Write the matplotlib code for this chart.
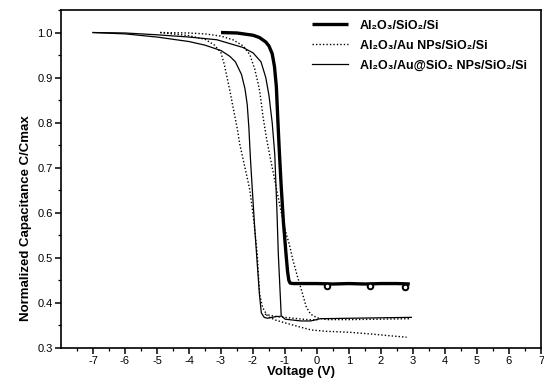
import matplotlib
matplotlib.use("Agg")
import matplotlib.pyplot as plt

plt.rcParams['font.family'] = ['Liberation Sans', 'DejaVu Sans']
plt.rcParams['axes.unicode_minus'] = False

# Al2O3/SiO2/Si (thick solid)
v_ref = [-3.0, -2.5, -2.0, -1.8, -1.6, -1.5, -1.4, -1.33, -1.27, -1.22, -1.18, -1.12,
         -1.05, -0.97, -0.92, -0.88, -0.84, -0.75, -0.5, 0.0, 0.5, 1.0, 1.5, 2.0, 2.5, 2.9]
c_ref = [1.0, 0.999, 0.994, 0.989, 0.979, 0.970, 0.953, 0.925, 0.88, 0.80, 0.74, 0.66,
         0.58, 0.51, 0.47, 0.45, 0.444, 0.443, 0.443, 0.443, 0.442, 0.443, 0.442, 0.443, 0.443, 0.442]
bump_v = [0.32, 1.66, 2.75]
bump_c = [0.437, 0.438, 0.436]

# Al2O3/Au NPs/SiO2/Si (dotted) - two branches + bottom segment
v_np_a = [-4.9, -4.0, -3.5, -3.2, -3.0, -2.9, -2.83, -2.72, -2.62, -2.5, -2.41, -2.25, -2.1,
          -1.97, -1.87, -1.82, -1.79, -1.7, -1.54, -1.3, -1.01, -0.5, -0.18, 0.3, 1.0, 1.7, 2.3, 2.8]
c_np_a = [1.0, 0.993, 0.985, 0.972, 0.955, 0.93, 0.907, 0.87, 0.833, 0.79, 0.751, 0.70, 0.651,
          0.58, 0.51, 0.45, 0.418, 0.39, 0.37, 0.362, 0.356, 0.346, 0.34, 0.337, 0.335, 0.331, 0.327, 0.324]
v_np_b = [-4.9, -4.0, -3.5, -3.0, -2.63, -2.3, -2.1, -1.95, -1.85, -1.79, -1.68, -1.57, -1.48,
          -1.3, -1.1, -0.95, -0.86, -0.76, -0.6, -0.45, -0.34, -0.2, 0.01, 0.3, 1.0, 2.0, 2.9]
c_np_b = [1.0, 0.999, 0.997, 0.992, 0.984, 0.97, 0.951, 0.92, 0.89, 0.87, 0.81, 0.762, 0.729,
          0.665, 0.595, 0.55, 0.529, 0.497, 0.456, 0.42, 0.392, 0.375, 0.367, 0.363, 0.363, 0.364, 0.365]
v_np_m = [-1.63, -1.3, -1.0, -0.6, -0.3, 0.01]
c_np_m = [0.375, 0.370, 0.368, 0.365, 0.363, 0.362]

# Al2O3/Au@SiO2 NPs/SiO2/Si (thin solid) - two branches
v_cs_a = [-7.0, -6.0, -5.0, -4.0, -3.5, -3.0, -2.72, -2.55, -2.36, -2.25, -2.18, -2.13, -2.08,
          -2.02, -1.95, -1.87, -1.8, -1.74, -1.65, -1.55, -1.4, -1.27, -1.15]
c_cs_a = [1.0, 0.997, 0.99, 0.98, 0.972, 0.96, 0.947, 0.935, 0.907, 0.875, 0.84, 0.79, 0.72,
          0.65, 0.57, 0.49, 0.42, 0.378, 0.368, 0.366, 0.368, 0.370, 0.370]
v_cs_b = [-7.0, -6.0, -5.0, -4.0, -3.13, -2.32, -2.0, -1.75, -1.6, -1.5, -1.4, -1.32, -1.25,
          -1.21, -1.17, -1.13, -1.12, -1.0, -0.5, -0.2, 0.1, 1.0, 2.0, 2.95]
c_cs_b = [1.0, 0.999, 0.995, 0.99, 0.984, 0.967, 0.955, 0.935, 0.90, 0.86, 0.80, 0.73, 0.60,
          0.51, 0.45, 0.39, 0.372, 0.364, 0.36, 0.36, 0.365, 0.366, 0.367, 0.368]

labels = ['Al\u2082O\u2083/SiO\u2082/Si',
          'Al\u2082O\u2083/Au NPs/SiO\u2082/Si',
          'Al\u2082O\u2083/Au@SiO\u2082 NPs/SiO\u2082/Si']

x_ticks = [-7, -6, -5, -4, -3, -2, -1, 0, 1, 2, 3, 4, 5, 6, 7]
y_ticks = [0.3, 0.4, 0.5, 0.6, 0.7, 0.8, 0.9, 1.0]

fig = plt.figure(figsize=(5.44, 3.85), dpi=100)
ax = fig.add_axes([61/544, 1-348/385, 480/544, 338/385])

l1, = ax.plot(v_ref, c_ref, color='black', lw=2.4, solid_capstyle='butt')
ax.plot(bump_v, bump_c, linestyle='none', marker='o', ms=4, mfc='white', mec='black', mew=1.4)
l2, = ax.plot(v_np_a, c_np_a, color='black', lw=1.0, linestyle=(0, (1, 1.5)))
ax.plot(v_np_b, c_np_b, color='black', lw=1.0, linestyle=(0, (1, 1.5)))
ax.plot(v_np_m, c_np_m, color='black', lw=1.0, linestyle=(0, (1, 1.5)))
l3, = ax.plot(v_cs_a, c_cs_a, color='black', lw=0.9)
ax.plot(v_cs_b, c_cs_b, color='black', lw=0.9)

ax.set_xlim(-8, 7)
ax.set_ylim(0.3, 1.05)
ax.set_xticks(x_ticks)
ax.set_xticklabels([str(t) for t in x_ticks])
ax.set_yticks(y_ticks)
ax.set_yticklabels(['%.1f' % t for t in y_ticks])
ax.set_xticks([t + 0.5 for t in range(-8, 7)], minor=True)
ax.set_yticks([0.35, 0.45, 0.55, 0.65, 0.75, 0.85, 0.95, 1.05], minor=True)
ax.tick_params(axis='both', which='major', direction='out', length=4, width=1.1, labelsize=8, pad=2)
ax.tick_params(axis='both', which='minor', direction='out', length=2, width=0.9)
for s in ax.spines.values():
    s.set_linewidth(1.2)

ax.set_xlabel('Voltage (V)', fontsize=9.5, fontweight='bold', labelpad=0)
ax.set_ylabel('Normalized Capacitance C/Cmax', fontsize=9.5, fontweight='bold')
ax.yaxis.set_label_coords(-0.06, 0.385)

leg = ax.legend([l1, l2, l3], labels, loc='upper left', bbox_to_anchor=(0.523, 0.971),
                frameon=False, handlelength=2.9, handletextpad=0.95, labelspacing=0.62,
                borderpad=0, borderaxespad=0, prop={'size': 9, 'weight': 'bold'})

fig.savefig('out.png', dpi=100)
